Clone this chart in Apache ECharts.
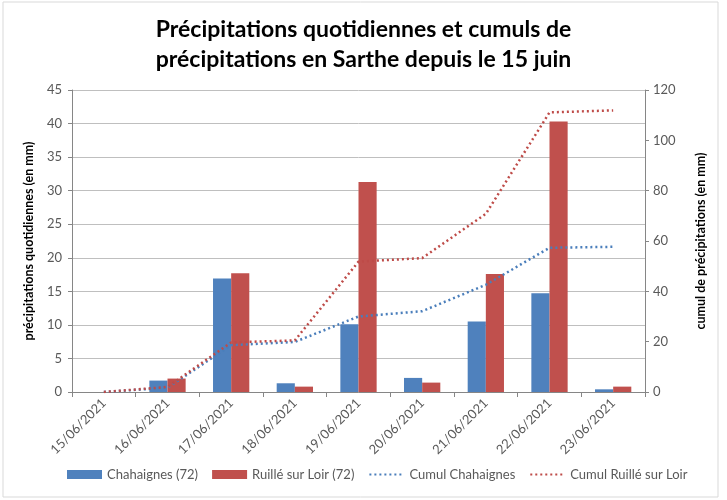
<!DOCTYPE html>
<html>
<head>
<meta charset="utf-8">
<script src="https://cdn.jsdelivr.net/npm/echarts@6/dist/echarts.min.js"></script>
<style>
  html, body { margin: 0; padding: 0; background: #fff; }
  #chart { width: 727px; height: 500px; }
</style>
</head>
<body>
<div id="chart"></div>
<script>
var dates = ["15/06/2021", "16/06/2021", "17/06/2021", "18/06/2021", "19/06/2021",
  "20/06/2021", "21/06/2021", "22/06/2021", "23/06/2021"];
var chahaignes = [0, 1.7, 16.9, 1.3, 10.1, 2.1, 10.5, 14.7, 0.4];
var ruille = [0, 2.0, 17.7, 0.8, 31.3, 1.4, 17.6, 40.3, 0.8];
var cumulChahaignes = [0, 1.7, 18.6, 19.9, 30.0, 32.1, 42.6, 57.3, 57.7];
var cumulRuille = [0, 2.0, 19.7, 20.5, 51.8, 53.2, 70.8, 111.1, 111.9];

var blue = "#4f81bd";
var red = "#c0504d";
var txt = "#595959";
var font = "Lato";

var myChart = echarts.init(document.getElementById("chart"));
myChart.setOption({
  backgroundColor: "#fff",
  animation: false,
  textStyle: { fontFamily: font },
  title: {
    text: "Précipitations quotidiennes et cumuls de\nprécipitations en Sarthe depuis le 15 juin",
    left: "center",
    top: 10,
    textStyle: { fontSize: 23, fontWeight: "bold", color: "#000", lineHeight: 30, fontFamily: font }
  },
  graphic: [{
    type: "rect",
    shape: { x: 3, y: 2, width: 715, height: 495 },
    style: { fill: "none", stroke: "#d9d9d9", lineWidth: 1 }
  }],
  legend: {
    bottom: 14,
    left: 62,
    itemWidth: 35,
    itemHeight: 9,
    itemGap: 14,
    textStyle: { fontSize: 13, color: txt, fontFamily: font },
    data: [
      { name: "Chahaignes (72)", icon: "rect" },
      { name: "Ruillé sur Loir (72)", icon: "rect" },
      { name: "Cumul Chahaignes", itemStyle: { opacity: 0 } },
      { name: "Cumul Ruillé sur Loir", itemStyle: { opacity: 0 } }
    ]
  },
  grid: { left: 72, right: 82, top: 90, bottom: 108 },
  xAxis: {
    type: "category",
    data: dates,
    axisLine: { lineStyle: { color: "#868686" } },
    axisTick: { show: true, length: 5, lineStyle: { color: "#868686" } },
    axisLabel: { rotate: 45, color: txt, fontSize: 13, margin: 9, fontFamily: font }
  },
  yAxis: [{
    type: "value",
    min: 0, max: 45, interval: 5,
    name: "précipitations quotidiennes (en mm)",
    nameLocation: "middle",
    nameGap: 37,
    nameTextStyle: { fontSize: 12.5, fontWeight: "bold", color: "#000", fontFamily: font },
    axisLine: { show: true, lineStyle: { color: "#868686" } },
    axisTick: { show: true, length: 4, lineStyle: { color: "#868686" } },
    axisLabel: { color: txt, fontSize: 13, margin: 10, fontFamily: font },
    splitLine: { lineStyle: { color: "#bfbfbf", width: 1 } }
  }, {
    type: "value",
    min: 0, max: 120, interval: 20,
    name: "cumul de précipitations (en mm)",
    nameLocation: "middle",
    nameGap: 49,
    nameTextStyle: { fontSize: 12.5, fontWeight: "bold", color: "#000", fontFamily: font },
    axisLine: { show: true, lineStyle: { color: "#868686" } },
    axisTick: { show: true, length: 4, lineStyle: { color: "#868686" } },
    axisLabel: { color: txt, fontSize: 13, margin: 8, fontFamily: font },
    splitLine: { show: false }
  }],
  series: [
    {
      name: "Chahaignes (72)",
      type: "bar",
      data: chahaignes,
      barGap: "0%",
      barCategoryGap: "43%",
      itemStyle: { color: blue }
    },
    {
      name: "Ruillé sur Loir (72)",
      type: "bar",
      data: ruille,
      itemStyle: { color: red }
    },
    {
      name: "Cumul Chahaignes",
      type: "line",
      yAxisIndex: 1,
      data: cumulChahaignes,
      symbol: "none",
      itemStyle: { color: "#4a7ebb" },
      lineStyle: { color: "#4a7ebb", width: 2.5, type: [2, 3] }
    },
    {
      name: "Cumul Ruillé sur Loir",
      type: "line",
      yAxisIndex: 1,
      data: cumulRuille,
      symbol: "none",
      itemStyle: { color: "#be4b48" },
      lineStyle: { color: "#be4b48", width: 2.5, type: [2, 3] }
    }
  ]
});
</script>
</body>
</html>
